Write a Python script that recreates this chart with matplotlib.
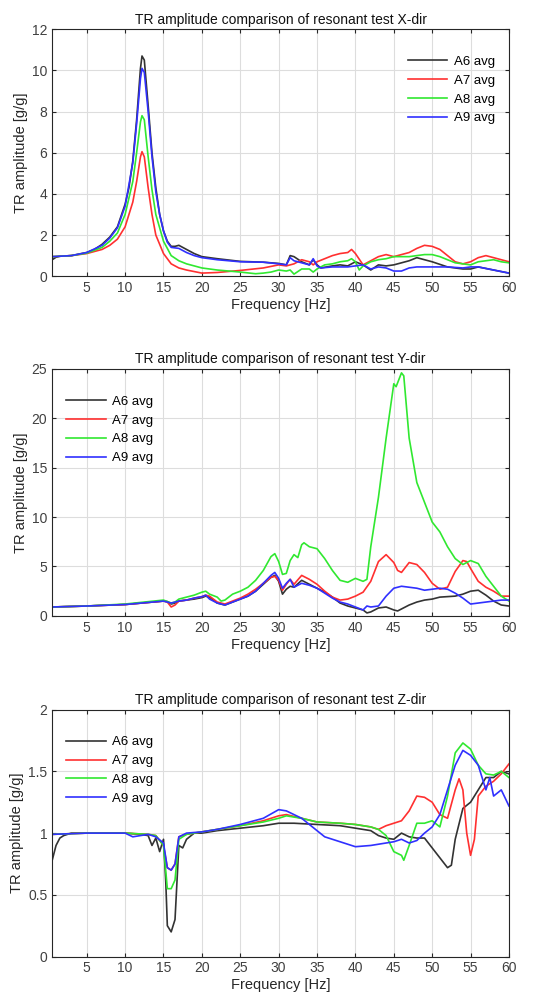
import numpy as np
import matplotlib.pyplot as plt

plt.rcParams['font.family'] = ['Liberation Sans', 'DejaVu Sans']

# legend labels / colours (MATLAB-ish k, r, g, b)
labels = ['A6 avg', 'A7 avg', 'A8 avg', 'A9 avg']
colors = ['#333333', '#ff3030', '#30e830', '#3030ff']

# X-dir : (frequency Hz, amplitude g/g)
x_a6 = [(0.5, 0.8), (1, 0.92), (1.5, 0.97), (3, 1.0), (5, 1.15), (6, 1.3), (7, 1.55), (8, 1.9), (9, 2.4),
        (10, 3.5), (10.5, 4.3), (11, 5.6), (11.5, 7.6), (12, 10.1), (12.2, 10.7), (12.5, 10.5),
        (13, 8.3), (13.5, 6.0), (14, 4.3), (14.5, 3.0), (15, 2.2), (15.5, 1.7), (16, 1.45),
        (16.5, 1.45), (17, 1.5), (18, 1.3), (19, 1.1), (20, 0.95), (22, 0.85), (25, 0.72),
        (28, 0.68), (30, 0.62), (31, 0.55), (31.5, 1.0), (32, 0.95), (33, 0.7), (34, 0.55),
        (34.5, 0.8), (35, 0.55), (35.5, 0.4), (37, 0.5), (38, 0.55), (39, 0.5), (40, 0.7),
        (41, 0.55), (42, 0.3), (43, 0.55), (44, 0.5), (45, 0.55), (47, 0.75), (48, 0.9),
        (49, 0.8), (50, 0.7), (52, 0.45), (54, 0.35), (55, 0.35), (56, 0.45), (58, 0.3), (60, 0.15)]
x_a7 = [(0.5, 0.95), (3, 1.0), (5, 1.1), (7, 1.3), (8, 1.5), (9, 1.8), (10, 2.4), (11, 3.6),
        (11.5, 4.6), (12, 5.8), (12.2, 6.05), (12.5, 5.8), (13, 4.3), (13.5, 3.0), (14, 2.0),
        (15, 1.1), (16, 0.6), (17, 0.4), (18, 0.3), (20, 0.15), (22, 0.18), (25, 0.28), (28, 0.4),
        (30, 0.55), (31, 0.5), (32, 0.6), (33, 0.8), (34, 0.7), (34.5, 0.55), (35, 0.7), (36, 0.85),
        (37, 1.0), (38, 1.1), (39, 1.15), (39.5, 1.3), (40, 1.1), (41, 0.55), (42, 0.75), (43, 0.95),
        (44, 1.05), (45, 0.95), (46, 1.05), (47, 1.15), (48, 1.35), (49, 1.5), (50, 1.45), (51, 1.3),
        (52, 1.0), (53, 0.7), (54, 0.6), (55, 0.7), (56, 0.9), (57, 1.0), (58, 0.9), (59, 0.8), (60, 0.7)]
x_a8 = [(0.5, 0.95), (3, 1.0), (5, 1.12), (7, 1.4), (8, 1.7), (9, 2.1), (10, 3.0), (11, 4.6),
        (11.5, 6.0), (12, 7.5), (12.2, 7.8), (12.5, 7.6), (13, 5.8), (13.5, 4.2), (14, 3.0),
        (15, 1.7), (16, 1.0), (17, 0.75), (18, 0.6), (20, 0.4), (22, 0.3), (25, 0.2), (27, 0.12),
        (28, 0.15), (29, 0.2), (30, 0.3), (31, 0.25), (31.5, 0.3), (32, 0.1), (33, 0.35), (34, 0.35),
        (34.5, 0.2), (35, 0.35), (36, 0.55), (37, 0.6), (38, 0.7), (39, 0.75), (39.5, 0.85), (40, 0.7),
        (40.5, 0.3), (41, 0.5), (42, 0.7), (43, 0.8), (44, 0.85), (45, 0.95), (46, 0.95), (47, 0.95),
        (48, 1.0), (49, 1.05), (50, 1.05), (51, 0.95), (52, 0.8), (53, 0.65), (54, 0.6), (55, 0.55),
        (56, 0.7), (57, 0.75), (58, 0.8), (59, 0.7), (60, 0.65)]
x_a9 = [(0.5, 0.95), (3, 1.0), (5, 1.15), (7, 1.5), (8, 1.85), (9, 2.35), (10, 3.4), (11, 5.5),
        (11.5, 7.4), (12, 9.6), (12.2, 10.1), (12.5, 9.9), (13, 8.0), (13.5, 5.8), (14, 4.1),
        (14.5, 3.0), (15, 2.2), (15.5, 1.65), (16, 1.4), (17, 1.35), (18, 1.15), (19, 1.0), (20, 0.9),
        (22, 0.8), (25, 0.7), (28, 0.68), (30, 0.6), (31, 0.55), (31.5, 0.9), (32, 0.75), (33, 0.65),
        (34, 0.55), (34.5, 0.85), (35, 0.5), (35.5, 0.4), (37, 0.45), (39, 0.45), (40, 0.5), (41, 0.55),
        (42, 0.35), (43, 0.45), (44, 0.4), (45, 0.25), (46, 0.25), (47, 0.4), (48, 0.45), (50, 0.45),
        (52, 0.45), (54, 0.4), (55, 0.45), (56, 0.45), (58, 0.3), (60, 0.15)]

# Y-dir
y_a6 = [(0.5, 0.9), (5, 1.0), (10, 1.15), (15, 1.5), (15.5, 1.45), (16, 1.2), (16.5, 1.3), (17, 1.5),
        (18, 1.6), (19, 1.7), (20, 1.85), (20.5, 2.0), (21, 1.9), (22, 1.3), (23, 1.1), (24, 1.4),
        (25, 1.7), (26, 2.0), (27, 2.5), (28, 3.2), (29, 3.9), (29.5, 4.1), (30, 3.5), (30.5, 2.2),
        (31, 2.7), (31.5, 3.0), (32, 2.9), (33, 3.6), (34, 3.2), (35, 2.8), (36, 2.4), (37, 1.9),
        (38, 1.3), (39, 1.0), (40, 0.8), (41, 0.6), (41.5, 0.3), (42, 0.4), (43, 0.8), (44, 0.9),
        (45, 0.6), (45.5, 0.5), (46, 0.7), (47, 1.1), (48, 1.4), (49, 1.6), (50, 1.7), (51, 1.9),
        (53, 2.0), (54, 2.2), (55, 2.5), (56, 2.6), (57, 2.1), (58, 1.5), (59, 1.1), (60, 1.0)]
y_a7 = [(0.5, 0.9), (5, 1.0), (10, 1.15), (15, 1.5), (15.5, 1.4), (16, 0.9), (16.5, 1.1), (17, 1.5),
        (18, 1.6), (19, 1.8), (20, 1.95), (20.5, 2.1), (21, 2.0), (22, 1.4), (23, 1.2), (24, 1.5),
        (25, 1.8), (26, 2.2), (27, 2.7), (28, 3.3), (29, 3.9), (29.5, 4.0), (30, 3.6), (30.5, 2.6),
        (31, 3.2), (31.5, 3.7), (32, 3.2), (33, 4.1), (34, 3.7), (35, 3.2), (36, 2.5), (37, 1.9),
        (38, 1.6), (39, 1.7), (40, 2.0), (41, 2.4), (42, 3.5), (43, 5.5), (44, 6.2), (45, 5.4),
        (45.5, 4.6), (46, 4.4), (47, 5.4), (48, 5.2), (49, 4.4), (50, 3.3), (51, 2.7), (52, 2.9),
        (53, 4.5), (54, 5.6), (54.5, 5.5), (55, 4.8), (56, 3.5), (57, 2.9), (58, 2.5), (59, 2.0), (60, 2.0)]
y_a8 = [(0.5, 0.9), (5, 1.0), (10, 1.2), (15, 1.6), (16, 1.3), (16.5, 1.4), (17, 1.7), (18, 1.9),
        (19, 2.1), (20, 2.4), (20.5, 2.5), (21, 2.2), (22, 1.9), (22.5, 1.5), (23, 1.6), (24, 2.2),
        (25, 2.5), (26, 2.9), (27, 3.6), (28, 4.6), (29, 6.0), (29.5, 6.3), (30, 5.5), (30.5, 4.2),
        (31, 4.3), (31.5, 5.6), (32, 6.2), (32.5, 5.9), (33, 7.2), (33.3, 7.4), (34, 7.0), (35, 6.8),
        (36, 5.8), (37, 4.6), (38, 3.6), (39, 3.4), (40, 3.8), (41, 3.5), (41.5, 3.7), (42, 7.0),
        (43, 12.0), (44, 18.0), (45, 23.5), (45.3, 23.2), (46, 24.6), (46.3, 24.3), (47, 18.0),
        (48, 13.5), (49, 11.5), (50, 9.5), (51, 8.5), (52, 7.0), (53, 5.8), (54, 5.2), (55, 5.6),
        (56, 5.3), (57, 4.0), (58, 3.0), (59, 2.0), (60, 1.5)]
y_a9 = [(0.5, 0.9), (5, 1.0), (10, 1.15), (15, 1.5), (16, 1.3), (17, 1.5), (18, 1.6), (19, 1.8),
        (20, 1.95), (20.5, 2.1), (21, 1.7), (22, 1.3), (23, 1.1), (24, 1.4), (25, 1.7), (26, 2.0),
        (27, 2.5), (28, 3.3), (29, 4.1), (29.5, 4.4), (30, 3.8), (30.5, 2.8), (31, 3.3), (31.5, 3.7),
        (32, 2.9), (33, 3.3), (34, 3.1), (35, 2.8), (36, 2.3), (37, 1.8), (38, 1.4), (39, 1.2),
        (40, 0.9), (41, 0.6), (41.5, 1.0), (42, 0.9), (43, 1.0), (44, 2.0), (45, 2.8), (46, 3.0),
        (47, 2.9), (48, 2.8), (49, 2.6), (50, 2.7), (51, 2.8), (52, 2.7), (53, 2.3), (54, 1.8),
        (55, 1.2), (56, 1.3), (57, 1.4), (58, 1.5), (59, 1.6), (60, 1.6)]

# Z-dir
z_a6 = [(0.5, 0.78), (1, 0.9), (1.5, 0.96), (2, 0.98), (3, 1.0), (5, 1.0), (8, 1.0), (10, 1.0), (12, 0.99),
        (13, 0.98), (13.5, 0.9), (14, 0.96), (14.5, 0.85), (15, 0.95), (15.3, 0.6), (15.5, 0.25),
        (16, 0.2), (16.5, 0.3), (17, 0.9), (17.5, 0.88), (18, 0.95), (19, 1.0), (20, 1.0), (22, 1.02),
        (25, 1.04), (28, 1.06), (30, 1.08), (32, 1.08), (35, 1.07), (38, 1.06), (40, 1.04), (42, 1.02),
        (43, 0.98), (44, 0.96), (45, 0.95), (46, 1.0), (47, 0.97), (48, 0.96), (49, 0.96), (50, 0.88),
        (51, 0.8), (52, 0.72), (52.5, 0.74), (53, 0.95), (54, 1.2), (55, 1.25), (56, 1.35), (57, 1.45),
        (58, 1.45), (59, 1.5), (60, 1.48)]
z_a7 = [(0.5, 0.99), (5, 1.0), (10, 1.0), (13, 0.99), (14, 0.98), (15, 0.9), (15.5, 0.72), (16, 0.7),
        (16.5, 0.75), (17, 0.97), (18, 0.99), (20, 1.01), (22, 1.03), (25, 1.06), (28, 1.1), (30, 1.14),
        (31, 1.15), (33, 1.12), (35, 1.09), (38, 1.08), (40, 1.07), (42, 1.05), (43, 1.03), (44, 1.06),
        (45, 1.08), (46, 1.1), (47, 1.18), (48, 1.3), (49, 1.29), (50, 1.25), (51, 1.15), (52, 1.12),
        (53, 1.35), (53.5, 1.44), (54, 1.35), (54.5, 1.0), (55, 0.82), (55.5, 0.95), (56, 1.3),
        (57, 1.38), (58, 1.42), (59, 1.48), (60, 1.56)]
z_a8 = [(0.5, 0.99), (5, 1.0), (10, 1.0), (13, 0.99), (14, 0.98), (15, 0.9), (15.5, 0.55), (16, 0.55),
        (16.5, 0.62), (17, 0.95), (18, 0.99), (20, 1.01), (22, 1.03), (25, 1.06), (28, 1.09), (30, 1.12),
        (31, 1.14), (33, 1.12), (35, 1.09), (38, 1.08), (40, 1.07), (42, 1.05), (43, 1.03), (44, 0.98),
        (45, 0.85), (46, 0.82), (46.3, 0.78), (47, 0.9), (48, 1.08), (49, 1.08), (50, 1.1), (51, 1.05),
        (52, 1.3), (53, 1.65), (54, 1.73), (55, 1.68), (56, 1.55), (57, 1.48), (58, 1.47), (59, 1.5),
        (60, 1.45)]
z_a9 = [(0.5, 0.99), (5, 1.0), (10, 1.0), (11, 0.97), (13, 0.99), (14, 0.97), (15, 0.92), (15.5, 0.72),
        (16, 0.7), (16.5, 0.75), (17, 0.97), (18, 1.0), (20, 1.01), (22, 1.03), (25, 1.07), (28, 1.12),
        (30, 1.19), (31, 1.18), (33, 1.12), (35, 1.02), (36, 0.97), (38, 0.93), (40, 0.89), (42, 0.9),
        (44, 0.92), (45, 0.93), (46, 0.95), (47, 0.92), (48, 0.94), (49, 1.0), (50, 1.05), (51, 1.15),
        (52, 1.35), (53, 1.55), (54, 1.67), (55, 1.63), (56, 1.55), (57, 1.35), (57.5, 1.45), (58, 1.3),
        (59, 1.35), (60, 1.22)]

panels = [
    ('X-dir', [x_a6, x_a7, x_a8, x_a9], (0, 12), np.arange(0, 13, 2), 'upper right'),
    ('Y-dir', [y_a6, y_a7, y_a8, y_a9], (0, 25), np.arange(0, 26, 5), 'upper left'),
    ('Z-dir', [z_a6, z_a7, z_a8, z_a9], (0, 2), [0, 0.5, 1, 1.5, 2], 'upper left'),
]
xticks = np.arange(5, 61, 5)

fig = plt.figure(figsize=(5.38, 10.08), dpi=100)
bottoms = [0.726, 0.389, 0.051]

for (name, series, ylim, yticks, loc), b in zip(panels, bottoms):
    ax = fig.add_axes([0.097, b, 0.849, 0.245])
    for s, c, lab in zip(series, colors, labels):
        arr = np.array(s)
        ax.plot(arr[:, 0], arr[:, 1], color=c, lw=1.2, label=lab)
    ax.set_xlim(0.5, 60)
    ax.set_ylim(*ylim)
    ax.set_xticks(xticks)
    ax.set_yticks(yticks)
    ax.set_yticklabels([('%g' % t) for t in yticks])
    ax.grid(True, color='#dddddd', lw=0.8)
    ax.set_axisbelow(True)
    ax.tick_params(direction='in', top=True, right=True, labelsize=10,
                   colors='#262626', labelcolor='#404040', length=3)
    for sp in ax.spines.values():
        sp.set_color('#262626')
        sp.set_linewidth(0.8)
    ax.set_title('TR amplitude comparison of resonant test ' + name, fontsize=10,
                 color='#111111', pad=4)
    ax.set_xlabel('Frequency [Hz]', fontsize=10.5, color='#262626', labelpad=2)
    ax.set_ylabel('TR amplitude [g/g]', fontsize=10.5, color='#262626', labelpad=3)
    if loc == 'upper right':
        anchor = (0.99, 0.93)
    else:
        anchor = (0.01, 0.93)
    ax.legend(loc=loc, bbox_to_anchor=anchor, frameon=False, fontsize=9.5,
              handlelength=3.0, handletextpad=0.5, labelspacing=0.5,
              borderaxespad=0.3)

fig.savefig('out.png', dpi=100, facecolor='white')
